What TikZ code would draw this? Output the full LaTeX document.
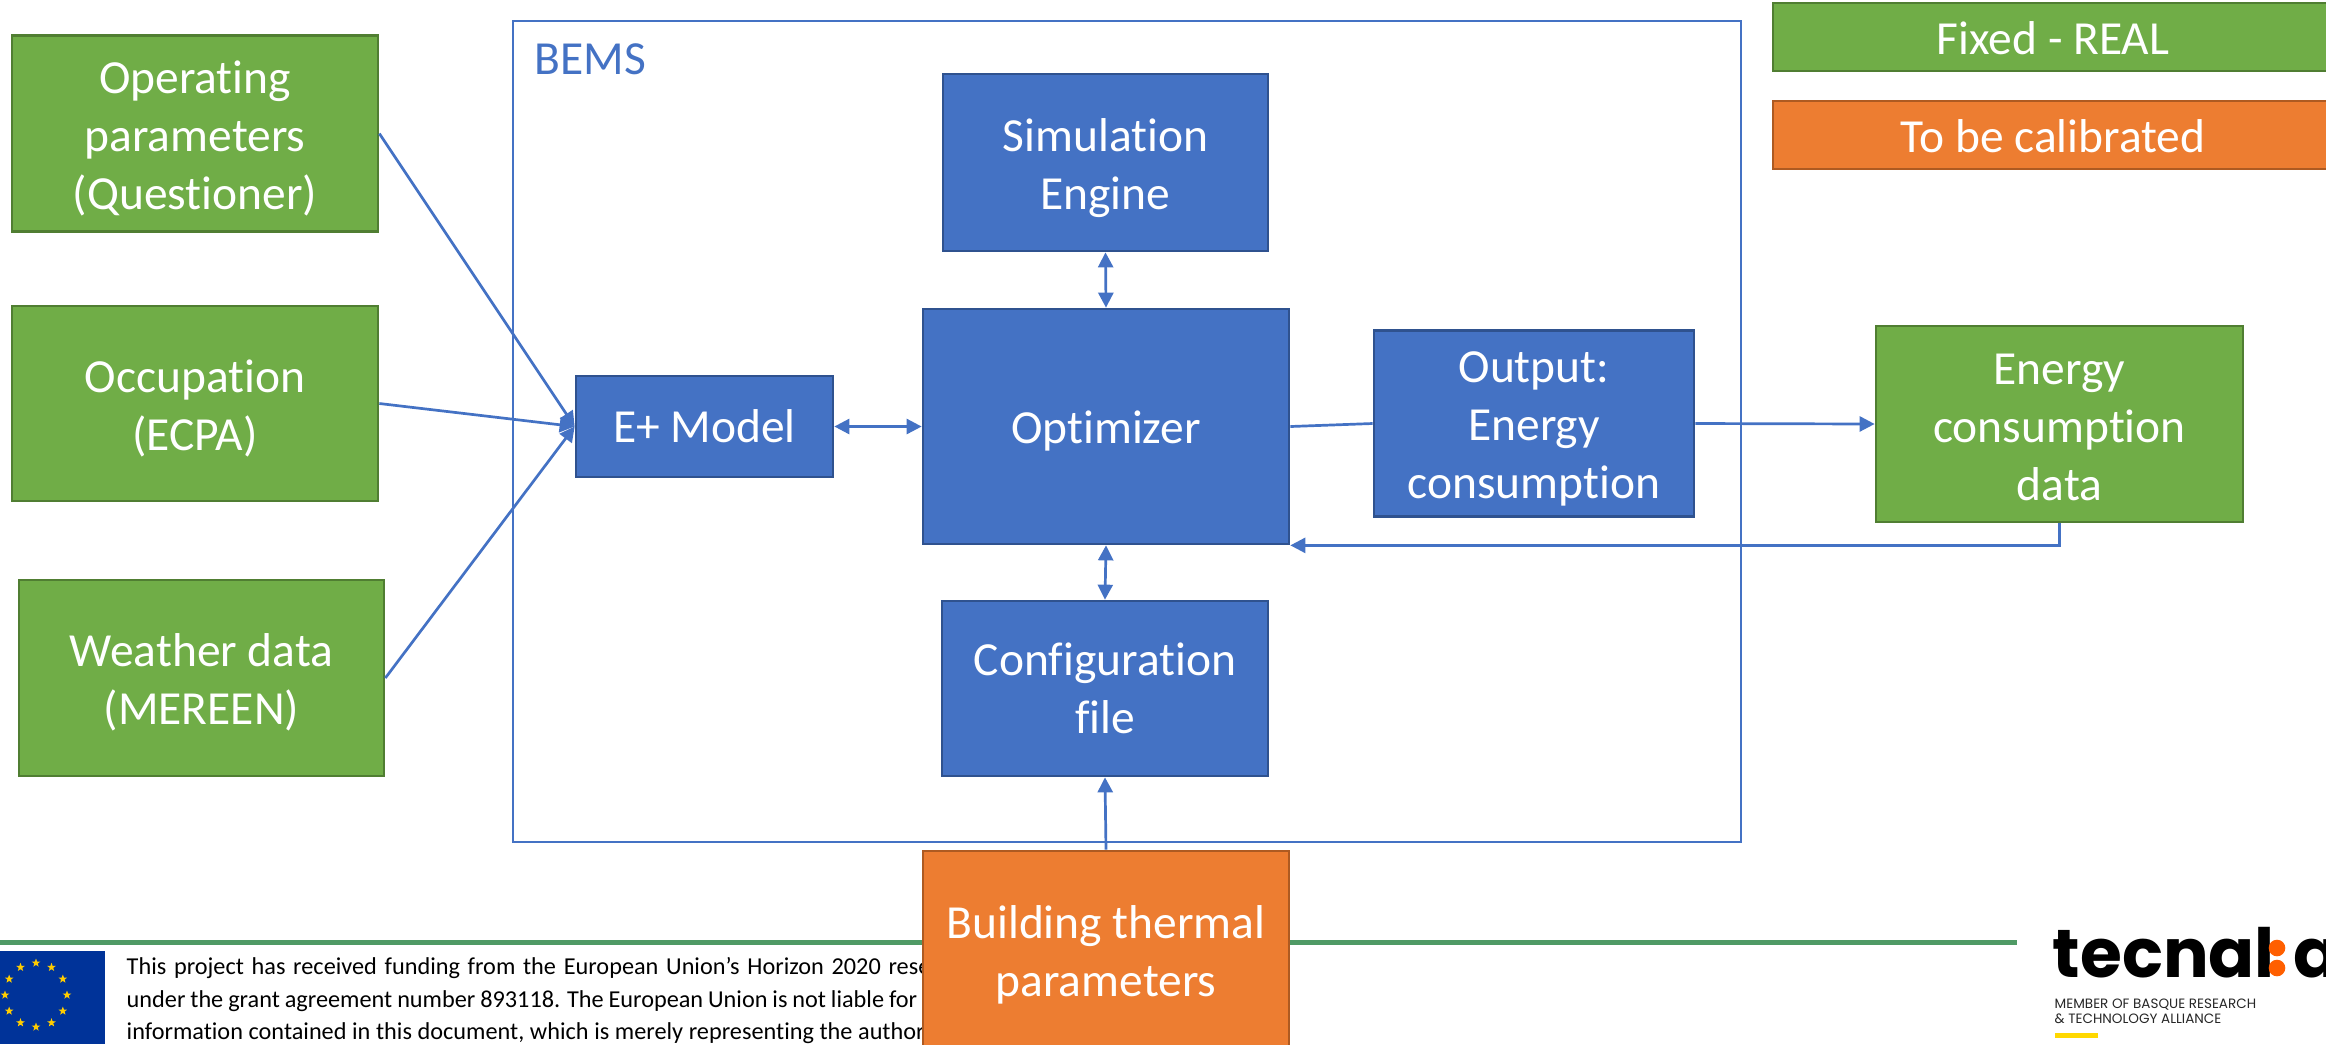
\documentclass[tikz,border=0pt]{standalone}
\usepackage{fontspec}
\usetikzlibrary{arrows.meta,shapes.geometric}
\setmainfont{Carlito}[Ligatures=NoCommon]
\newfontfamily\logofont{Poppins}
\definecolor{greenFill}{HTML}{70AD47}
\definecolor{greenEdge}{HTML}{507E32}
\definecolor{blueFill}{HTML}{4472C4}
\definecolor{blueEdge}{HTML}{2F528F}
\definecolor{orangeFill}{HTML}{ED7D31}
\definecolor{orangeEdge}{HTML}{AE5A21}
\definecolor{ruleGreen}{HTML}{4F9A65}
\definecolor{flagBlue}{HTML}{003399}
\definecolor{starYellow}{HTML}{FFCC00}
\definecolor{logoOrange}{HTML}{FF5F00}
\definecolor{logoYellow}{HTML}{FFD800}
\begin{document}
\begin{tikzpicture}
[x=0.01cm,y=-0.01cm,
  boxDecorate/.style={shape=rectangle,draw,line width=0.027cm,inner sep=0pt},
  greenDecorate/.style={boxDecorate,fill=greenFill,draw=greenEdge},
  blueDecorate/.style={boxDecorate,fill=blueFill,draw=blueEdge},
  orangeDecorate/.style={boxDecorate,fill=orangeFill,draw=orangeEdge},
  wordsDecorate/.style={text=white,align=center,inner sep=0pt,font=\fontsize{13.5}{16.5}\selectfont},
  arrowDecorate/.style={-{Triangle[length=0.15cm,width=0.15cm]},draw=blueFill,line width=0.027cm},
  bothDecorate/.style={{Triangle[length=0.15cm,width=0.15cm]}-{Triangle[length=0.15cm,width=0.15cm]},draw=blueFill,line width=0.027cm},
  footDecorate/.style={anchor=base west,inner sep=0pt,font=\fontsize{6.9}{9}\selectfont},
  memberDecorate/.style={anchor=base west,inner sep=0pt,text=black!85,font=\logofont\fontsize{3.85}{4}\selectfont}]
\clip (0,0) rectangle (2326,1044);
%% footer
\draw[ruleGreen,line width=0.05cm] (0,942) -- (2017,942);
\fill[flagBlue] (0,951) rectangle (105,1044);
\foreach \angle in {0,30,...,330}
{
  \node[star,star points=5,star point ratio=2.4,fill=starYellow,inner sep=0pt,minimum size=0.09cm] at ({36+31*cos(\angle)},{995+32*sin(\angle)}) {};
}
\foreach \nodename/\y/\gap/\words in {
  footA/974/2.2/{This project has received funding from the European Union’s Horizon 2020 resea},
  footB/1007/1.4/{under the grant agreement number 893118. The European Union is not liable for a},
  footC/1039/1.6/{information contained in this document, which is merely representing the authors}}
{
  \node (\nodename) at (126,\y) [footDecorate] {\spaceskip=\gap pt\words};
}
%% logo
\node (logo) at (2052,977) [anchor=base west,inner sep=0pt,font=\logofont\bfseries\fontsize{19.3}{20}\selectfont] {tecnal};
\fill[logoOrange] (2277,948) circle (8.3) (2277,968) circle (8.3);
\node (logoend) at (2293,977) [anchor=base west,inner sep=0pt,font=\logofont\bfseries\fontsize{19.3}{20}\selectfont] {a};
\node (memberA) at (2054,1008) [memberDecorate] {MEMBER OF BASQUE RESEARCH};
\node (memberB) at (2054,1023) [memberDecorate] {\& TECHNOLOGY ALLIANCE};
\fill[logoYellow] (2055,1033) rectangle (2098,1038);
%% outer frame
\node (bems) at (1127,431.5) [draw=blueFill,line width=0.02cm,minimum width=12.28cm,minimum height=8.21cm] {};
\node (bemslabel) at (534,59) [anchor=west,inner sep=0pt,text=blueFill,font=\fontsize{13.5}{16.5}\selectfont] {BEMS};
%% boxes
\foreach \nodename/\x/\y/\w/\h/\kind/\ty/\words in {
  operating/195/133.5/366/196/greenDecorate/138/{Operating\\parameters\\(Questioner)},
  occupation/195/403.5/366/195/greenDecorate/408/{Occupation\\(ECPA)},
  weather/201.5/678/365/196/greenDecorate/682.5/{Weather data\\(MEREEN)},
  fixedreal/2053/37/560/68/greenDecorate/38.5/{Fixed - REAL},
  calibrated/2053/135/560/68/orangeDecorate/136.5/{To be calibrated},
  simulation/1105.5/162.5/325/177/blueDecorate/168.5/{Simulation\\Engine},
  optimizer/1106/426.5/366/235/blueDecorate/431/{Optimizer},
  emodel/704.5/426.5/257/101/blueDecorate/426.5/{E+ Model},
  output/1534/423.5/320/186/blueDecorate/429/{Output:\\Energy\\consumption},
  energydata/2059.5/424/367/196/greenDecorate/427/{Energy\\consumption\\data},
  config/1105/688.5/326/175/blueDecorate/688.5/{Configuration\\file},
  building/1106/952/366/202/orangeDecorate/955/{Building thermal\\parameters}}
{
  \node (\nodename) at (\x,\y) [\kind,minimum width=\w*0.01cm,minimum height=\h*0.01cm] {};
  \node (\nodename label) at (\x,\ty) [wordsDecorate] {\words};
}
%% connectors
\coordinate (feedback) at (energydata.south |- optimizer.south east);
\foreach \startnode/\endnode in {
  operating.east/emodel.west, occupation.east/emodel.west, weather.east/emodel.west,
  output.east/energydata.west, building.north/config.south}
{
  \draw[arrowDecorate] (\startnode) -- (\endnode);
}
\foreach \startnode/\endnode in {
  emodel.east/optimizer.west, simulation.south/optimizer.north, optimizer.south/config.north}
{
  \draw[bothDecorate] (\startnode) -- (\endnode);
}
\draw[blueFill,line width=0.027cm] (optimizer.east) -- (output.west);
\draw[arrowDecorate] (energydata.south) -- (feedback) -- (optimizer.south east);
\end{tikzpicture}
\end{document}
